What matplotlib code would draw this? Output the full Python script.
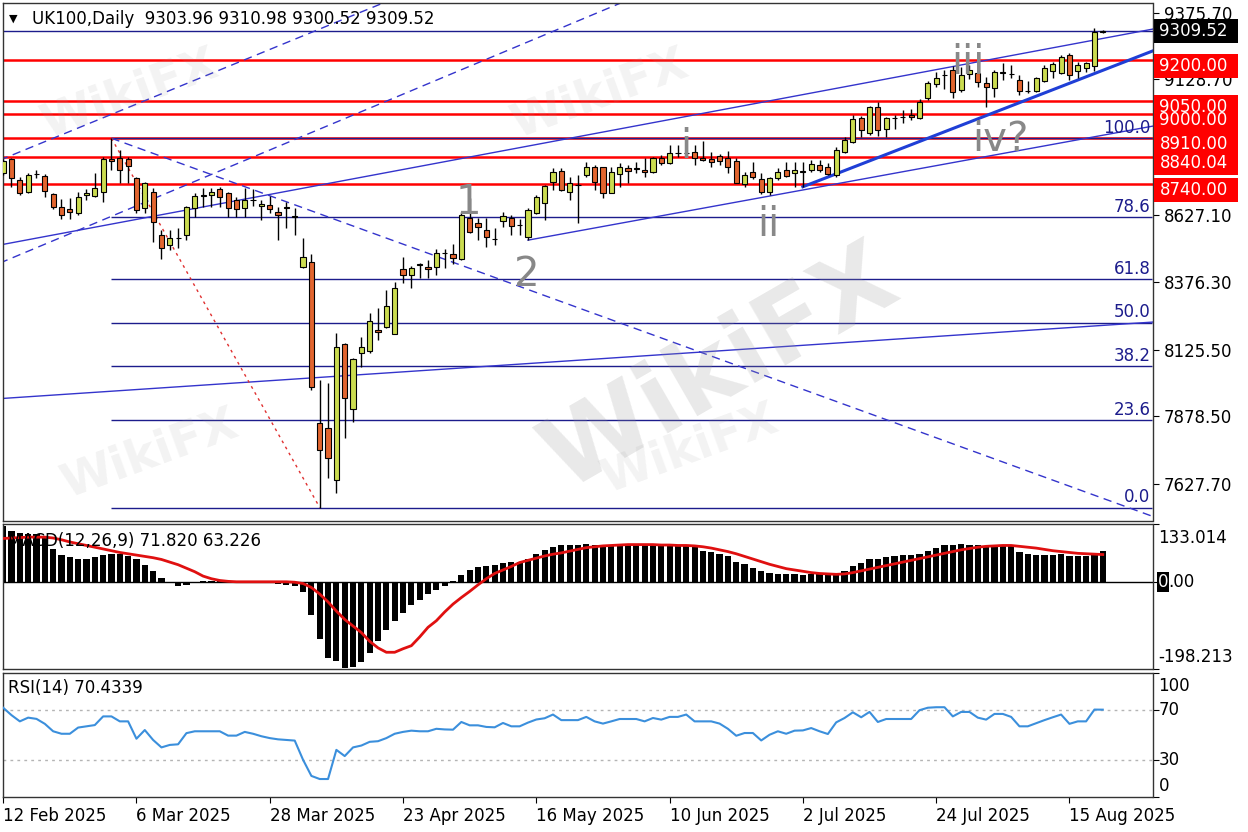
#!/usr/bin/env python3
"""UK100 daily chart with wave counts, fib levels, MACD and RSI panels."""

import matplotlib

matplotlib.use("Agg")
import matplotlib.pyplot as plt
import matplotlib.transforms as mtransforms
import numpy as np
from matplotlib.patches import Rectangle

plt.rcParams["font.family"] = ["DejaVu Sans"]

W, H = 1248, 832
LEFT, RIGHT = 2.5, 1152.5

# ---- price data (bar index 0 = 12 Feb 2025) ----
OPEN = [8782, 8832, 8755, 8712, 8778, 8770, 8702, 8654, 8646, 8632,
        8700, 8696, 8712, 8832, 8836, 8832, 8761, 8650, 8712, 8551,
        8514, 8541, 8551, 8650, 8697, 8700, 8721, 8706, 8681, 8650,
        8681, 8659, 8662, 8638, 8655, 8620, 8434, 8452, 7852, 7834,
        7642, 8145, 7904, 8115, 8122, 8199, 8211, 8184, 8424, 8403,
        8438, 8434, 8434, 8484, 8479, 8461, 8613, 8597, 8570, 8537,
        8604, 8613, 8589, 8545, 8634, 8671, 8749, 8790, 8712, 8737,
        8774, 8805, 8802, 8708, 8777, 8798, 8798, 8792, 8786, 8835,
        8817, 8857, 8856, 8860, 8835, 8833, 8844, 8835, 8827, 8740,
        8786, 8758, 8712, 8761, 8792, 8780, 8786, 8792, 8811, 8802,
        8774, 8860, 8897, 8986, 8928, 9025, 8943, 8984, 8988, 8996,
        8984, 9058, 9111, 9145, 9163, 9089, 9150, 9151, 9114, 9095,
        9153, 9148, 9126, 9087, 9085, 9124, 9161, 9153, 9219, 9160,
        9169, 9178, 9303.96]
HIGH = [8832, 8836, 8768, 8780, 8792, 8778, 8708, 8683, 8687, 8712,
        8721, 8782, 8842, 8910, 8867, 8842, 8768, 8749, 8724, 8570,
        8570, 8576, 8659, 8706, 8724, 8724, 8730, 8712, 8693, 8724,
        8721, 8681, 8696, 8654, 8675, 8650, 8539, 8479, 8013, 8002,
        8186, 8150, 8095, 8174, 8263, 8279, 8347, 8378, 8468, 8436,
        8446, 8458, 8498, 8498, 8518, 8635, 8687, 8613, 8613, 8576,
        8638, 8625, 8609, 8650, 8700, 8737, 8798, 8798, 8768, 8774,
        8823, 8811, 8805, 8805, 8817, 8811, 8823, 8835, 8842, 8848,
        8885, 8885, 8870, 8885, 8901, 8860, 8852, 8864, 8835, 8786,
        8823, 8780, 8767, 8798, 8823, 8823, 8823, 8829, 8829, 8817,
        8876, 8916, 8996, 8993, 9030, 9046, 8990, 8996, 9015, 9017,
        9054, 9124, 9157, 9163, 9178, 9176, 9180, 9182, 9138, 9163,
        9188, 9182, 9145, 9124, 9138, 9182, 9194, 9219, 9228, 9194,
        9194, 9318, 9310.98]
LOW = [8774, 8730, 8700, 8706, 8761, 8693, 8646, 8610, 8610, 8625,
       8681, 8693, 8675, 8792, 8743, 8743, 8632, 8632, 8526, 8461,
       8495, 8502, 8533, 8619, 8656, 8656, 8656, 8619, 8619, 8619,
       8659, 8607, 8634, 8533, 8576, 8551, 8427, 7976, 7540, 7648,
       7593, 7797, 7859, 8063, 8115, 8161, 8205, 8184, 8374, 8356,
       8390, 8390, 8403, 8427, 8442, 8458, 8560, 8533, 8505, 8514,
       8582, 8551, 8551, 8533, 8629, 8607, 8718, 8716, 8681, 8597,
       8765, 8718, 8687, 8706, 8730, 8743, 8780, 8767, 8782, 8811,
       8814, 8842, 8840, 8811, 8826, 8805, 8811, 8782, 8743, 8730,
       8758, 8703, 8699, 8755, 8765, 8730, 8730, 8786, 8786, 8774,
       8767, 8854, 8891, 8916, 8922, 8918, 8916, 8943, 8965, 8978,
       8980, 9052, 9099, 9092, 9058, 9083, 9130, 9101, 9027, 9064,
       9126, 9132, 9071, 9077, 9083, 9120, 9132, 9148, 9126, 9132,
       9157, 9161, 9300.52]
CLOSE = [8826, 8761, 8706, 8774, 8777, 8716, 8656, 8625, 8635, 8693,
         8708, 8727, 8832, 8826, 8792, 8808, 8644, 8743, 8601, 8502,
         8539, 8540, 8654, 8696, 8698, 8709, 8693, 8650, 8646, 8681,
         8680, 8666, 8646, 8625, 8650, 8617, 8471, 7988, 7753, 7722,
         8137, 7945, 8090, 8137, 8232, 8190, 8289, 8356, 8403, 8427,
         8443, 8426, 8483, 8483, 8464, 8625, 8563, 8582, 8545, 8538,
         8622, 8584, 8588, 8644, 8693, 8733, 8786, 8718, 8743, 8735,
         8805, 8749, 8708, 8786, 8802, 8790, 8797, 8786, 8835, 8817,
         8857, 8856, 8855, 8835, 8830, 8823, 8827, 8805, 8745, 8774,
         8765, 8712, 8761, 8786, 8770, 8792, 8787, 8814, 8792, 8777,
         8866, 8903, 8982, 8941, 9025, 8941, 8984, 8985, 8989, 8988,
         9046, 9116, 9132, 9144, 9083, 9145, 9165, 9120, 9099, 9157,
         9154, 9147, 9085, 9085, 9132, 9169, 9185, 9210, 9145, 9182,
         9188, 9304, 9309.52]

MACD_MAIN = [128, 118, 112, 111, 110, 105, 75, 62, 57, 54,
             54, 58, 63, 65, 65, 60, 52, 40, 26, 10,
             0, -9, -7, -2, 2, 3, 4, 3, 2, 2,
             1, 0, -1, -3, -6, -8, -22, -75, -130, -174,
             -180, -196, -194, -182, -162, -135, -110, -88, -70, -53,
             -40, -28, -17, -8, 2, 17, 27, 35, 38, 39,
             43, 46, 47, 54, 64, 73, 80, 84, 84, 85,
             87, 85, 83, 84, 84, 84, 84, 84, 84, 84,
             82, 82, 82, 80, 72, 68, 65, 59, 47, 41,
             33, 26, 22, 19, 19, 18, 17, 18, 20, 19,
             19, 26, 37, 45, 54, 54, 57, 59, 62, 62,
             65, 72, 78, 86, 84, 87, 84, 84, 82, 84,
             84, 82, 68, 65, 62, 62, 62, 65, 61, 61,
             61, 66, 71.82]
MACD_SIGNAL = [100, 101, 102, 103, 103, 103, 101, 97, 92, 88,
               84, 80, 76, 72, 68, 65, 62, 59, 56, 52,
               46, 40, 32, 24, 14, 8, 4, 2, 1, 1,
               1, 1, 1, 1, 1, 0, -3, -12, -27, -45,
               -66, -85, -100, -115, -135, -150, -160, -160, -152, -145,
               -125, -103, -88, -68, -50, -35, -21, -6, 8, 20,
               28, 36, 45, 50, 55, 60, 64, 67, 71, 75,
               79, 81, 83, 84, 85, 86, 86, 86, 86, 85,
               85, 84, 84, 83, 81, 78, 74, 70, 65, 59,
               53, 47, 41, 36, 31, 28, 25, 22, 20, 19,
               18, 19, 22, 26, 30, 34, 38, 42, 46, 50,
               54, 58, 62, 66, 70, 74, 77, 80, 82, 83,
               84, 84, 82, 80, 78, 75, 72, 70, 68, 66,
               65, 64, 63.226]
RSI = [72, 66, 61, 64, 63, 59, 53, 51, 51, 56,
       57, 58, 65, 65, 61, 61, 47, 54, 46, 40,
       42, 42.5, 51.5, 53, 53, 53, 53, 49.5, 49.5, 52.5,
       51, 49, 47.5, 46.5, 46, 45.5, 30, 17, 14.5, 14.5,
       38, 33, 40, 41.5, 44.5, 45, 47.5, 51, 52.5, 53.5,
       53, 53, 55, 54.5, 54.3, 60.5, 57.8, 57.8, 56.5, 56.2,
       59.7, 57, 57, 60, 62.5, 63.5, 66.5, 62, 62, 62,
       64.6, 61, 59.2, 61, 62.9, 62.9, 62.9, 61, 63.7, 62.4,
       64.6, 64.6, 66.5, 61, 61, 61, 59.2, 55, 49.4, 51.6,
       51.6, 45.6, 50.2, 53, 51, 53.5, 53.7, 55.6, 53, 50.8,
       60.2, 63.7, 68.3, 64.3, 68.6, 60.5, 62.9, 62.9, 62.9, 62.9,
       70, 72, 72.4, 72.4, 65, 68.6, 68.6, 64, 62.4, 67,
       67, 64.6, 57, 57, 59.5, 62, 64.3, 66.5, 59, 61,
       61, 70.5, 70.43]

DATE_IDX = [0, 16, 32, 48, 64, 80, 96, 112, 128]
DATE_LABELS = ["12 Feb 2025", "6 Mar 2025", "28 Mar 2025", "23 Apr 2025",
               "16 May 2025", "10 Jun 2025", "2 Jul 2025", "24 Jul 2025",
               "15 Aug 2025"]

PRICE_TICKS = [7627.70, 7878.50, 8125.50, 8376.30, 8627.10, 9128.70, 9375.70]
RED_LEVELS = [9200.00, 9050.00, 9000.00, 8910.00, 8840.04, 8740.00]
LAST_PRICE = 9309.52
FIB_LOW, FIB_HIGH = 7540.0, 8910.0
FIB_PCT = [0.0, 23.6, 38.2, 50.0, 61.8, 78.6, 100.0]
FIB_START = 13

# trend lines as (bar index pair, price pair)
DASHED_UP = [([-0.4, 46.5], [8829, 9423]), ([-0.4, 75.0], [8447, 9423])]
DASHED_DOWN = ([13.0, 138.0], [8910, 7507])
THIN_LINES = [([-0.4, 138.0], [8514, 9315]),
              ([63.0, 138.0], [8532, 8955]),
              ([-0.4, 138.0], [7944, 8228])]
THICK_LINE = ([96.0, 138.0], [8730, 9234])
FIB_DIAG = ([13, 38], [8910, 7540])

WAVES = [("1", 55.8, 8670), ("2", 62.9, 8403), ("i", 82.0, 8877),
         ("ii", 91.8, 8588), ("iii", 115.8, 9189), ("iv?", 119.7, 8903)]

MACD_MIN, MACD_MAX = -198.213, 133.014
PRICE_MIN, PRICE_MAX = 7490.0, 9411.8

BULL = "#cbdc50"
BEAR = "#e2652f"
NAVY = "#1c1c8c"
LINE_BLUE = "#3434cc"
FS = 12


def add_panel(fig, top, bottom):
    ax = fig.add_axes([LEFT / W, 1 - bottom / H, (RIGHT - LEFT) / W, (bottom - top) / H])
    ax.set_xlim(-0.08, 137.97)
    for sp in ax.spines.values():
        sp.set_color("#333333")
        sp.set_linewidth(1)
    ax.yaxis.tick_right()
    ax.tick_params(axis="y", length=4, pad=4, labelsize=FS, direction="out")
    ax.tick_params(axis="x", length=0, labelbottom=False)
    return ax


def right_box(ax, price, text, color, ppx, shift=0.0):
    trans = mtransforms.blended_transform_factory(ax.transAxes, ax.transData)
    yc = price - shift * ppx
    ax.add_patch(Rectangle((1 + 1.5 / 1150, yc - 12 * ppx), 84 / 1150, 24 * ppx,
                           transform=trans, clip_on=False, facecolor=color,
                           edgecolor="none", zorder=20))
    ax.text(1 + 7 / 1150, yc, text, transform=trans, color="white", fontsize=FS,
            va="center", ha="left", zorder=21, clip_on=False)


def draw_main(ax):
    o, h, l, c = map(np.array, (OPEN, HIGH, LOW, CLOSE))
    x = np.arange(len(o))
    ax.set_ylim(PRICE_MIN, PRICE_MAX)
    ppx = (PRICE_MAX - PRICE_MIN) / 518

    for lv in RED_LEVELS:
        ax.axhline(lv, color="#ff0000", lw=1.8, zorder=2)
    ax.axhline(LAST_PRICE, color=NAVY, lw=1, zorder=2)

    fib_vals = [FIB_LOW + p / 100 * (FIB_HIGH - FIB_LOW) for p in FIB_PCT]
    ax.hlines(fib_vals, FIB_START, 137.97, color=NAVY, lw=1, zorder=2)
    for p, v in zip(FIB_PCT, fib_vals):
        ax.text(137.7, v + 1.5 * ppx, f"{p:.1f}", color=NAVY, fontsize=FS,
                ha="right", va="bottom", zorder=6)

    for xs, ys in DASHED_UP:
        ax.plot(xs, ys, color=LINE_BLUE, lw=1, ls=(0, (6, 4)), zorder=2)
    ax.plot(*DASHED_DOWN, color=LINE_BLUE, lw=1, ls=(0, (6, 4)), zorder=2)
    for xs, ys in THIN_LINES:
        ax.plot(xs, ys, color=LINE_BLUE, lw=1, zorder=2)
    ax.plot(*THICK_LINE, color="#1f3fd6", lw=2.2, zorder=2)
    ax.plot(*FIB_DIAG, color="#e03030", lw=1, ls=(0, (2, 3)), zorder=2)

    # candles
    ax.vlines(x, l, h, color="black", lw=1, zorder=3)
    up = c >= o
    ax.bar(x[up], (c - o)[up], bottom=o[up], width=0.62, color=BULL,
           edgecolor="black", linewidth=0.8, zorder=4)
    ax.bar(x[~up], (o - c)[~up], bottom=c[~up], width=0.62, color=BEAR,
           edgecolor="black", linewidth=0.8, zorder=4)

    for label, xi, yi in WAVES:
        ax.text(xi, yi, label, fontsize=29, color="#888888", ha="center",
                va="center", zorder=7)

    ax.set_yticks(PRICE_TICKS, [f"{t:.2f}" for t in PRICE_TICKS])
    for lv in RED_LEVELS:
        right_box(ax, lv, f"{lv:.2f}", "#ff0000", ppx, shift=6)
    right_box(ax, LAST_PRICE, f"{LAST_PRICE:.2f}", "black", ppx)

    ax.text(6 / 1150, 1 - 16 / 518, "\u25bc", transform=ax.transAxes,
            fontsize=8, va="center", ha="left", zorder=8)
    ax.text(30 / 1150, 1 - 16 / 518, "UK100,Daily  9303.96 9310.98 9300.52 9309.52",
            transform=ax.transAxes, fontsize=FS, va="center", ha="left", zorder=8)


def draw_macd(ax):
    x = np.arange(len(MACD_MAIN))
    ax.set_ylim(MACD_MIN, MACD_MAX)
    ax.axhline(0, color="black", lw=1, zorder=1)
    ax.bar(x, MACD_MAIN, width=0.74, color="black", zorder=2)
    ax.plot(x, MACD_SIGNAL, color="#e01010", lw=2, zorder=3)
    ax.set_yticks([MACD_MIN, 0, MACD_MAX], ["", "", ""])
    trans = mtransforms.blended_transform_factory(ax.transAxes, ax.transData)
    ax.text(1 + 6 / 1150, 1 - 14 / 145, "133.014", transform=ax.transAxes,
            fontsize=FS, va="center", ha="left")
    ax.text(1 + 6 / 1150, 1 - 133 / 145, "-198.213", transform=ax.transAxes,
            fontsize=FS, va="center", ha="left")
    ax.text(1 + 5 / 1150, 0, "0", transform=trans, fontsize=FS, va="center",
            ha="left", color="white", zorder=5,
            bbox=dict(boxstyle="square,pad=0.05", facecolor="black", edgecolor="none"))
    ax.text(1 + 16 / 1150, 0, ".00", transform=trans, fontsize=FS, va="center",
            ha="left", zorder=5)
    ax.text(5 / 1150, 1 - 17 / 145, "MACD(12,26,9) 71.820 63.226",
            transform=ax.transAxes, fontsize=FS, va="center", ha="left", zorder=6)


def draw_rsi(ax):
    x = np.arange(len(RSI))
    ax.set_ylim(0, 100)
    for lv in (70, 30):
        ax.axhline(lv, color="#b4b4b4", lw=1, ls=(0, (2, 3)), zorder=1)
    ax.plot(x, RSI, color="#3b8fdc", lw=1.5, zorder=3)
    ax.set_yticks([0, 30, 70, 100], ["", "", "", ""])
    ax.text(1 + 6 / 1150, 1 - 13 / 124, "100", transform=ax.transAxes,
            fontsize=FS, va="center", ha="left")
    ax.text(1 + 6 / 1150, 1 - 113 / 124, "0", transform=ax.transAxes,
            fontsize=FS, va="center", ha="left")
    trans = mtransforms.blended_transform_factory(ax.transAxes, ax.transData)
    for lv in (70, 30):
        ax.text(1 + 6 / 1150, lv, str(lv), transform=trans, fontsize=FS,
                va="center", ha="left")
    ax.text(5 / 1150, 1 - 15 / 124, "RSI(14) 70.4339", transform=ax.transAxes,
            fontsize=FS, va="center", ha="left", zorder=6)

    ax.set_xticks(DATE_IDX, DATE_LABELS)
    ax.tick_params(axis="x", length=4, pad=3, labelsize=FS, labelbottom=True,
                   direction="out")
    for lab in ax.get_xticklabels():
        lab.set_ha("left")


def add_watermarks(fig):
    # faint WikiFX marks, as on the source screenshot
    fig.text(720 / W, 1 - 370 / H, "WikiFX", fontsize=72, fontweight="bold",
             rotation=30, color="#9a9a9a", alpha=0.22, ha="center", va="center",
             zorder=50)
    spots = [(130, 95), (600, 95), (690, 450), (150, 455)]
    for sx, sy in spots:
        fig.text(sx / W, 1 - sy / H, "WikiFX", fontsize=34, fontweight="bold",
                 rotation=20, color="#9a9a9a", alpha=0.12, ha="center",
                 va="center", zorder=50)


def main():
    fig = plt.figure(figsize=(W / 100, H / 100), dpi=100)
    fig.patch.set_facecolor("white")
    ax_main = add_panel(fig, 3, 521)
    ax_macd = add_panel(fig, 524, 669)
    ax_rsi = add_panel(fig, 673, 797)
    draw_main(ax_main)
    draw_macd(ax_macd)
    draw_rsi(ax_rsi)
    add_watermarks(fig)
    fig.savefig("out.png", dpi=100)


if __name__ == "__main__":
    main()
